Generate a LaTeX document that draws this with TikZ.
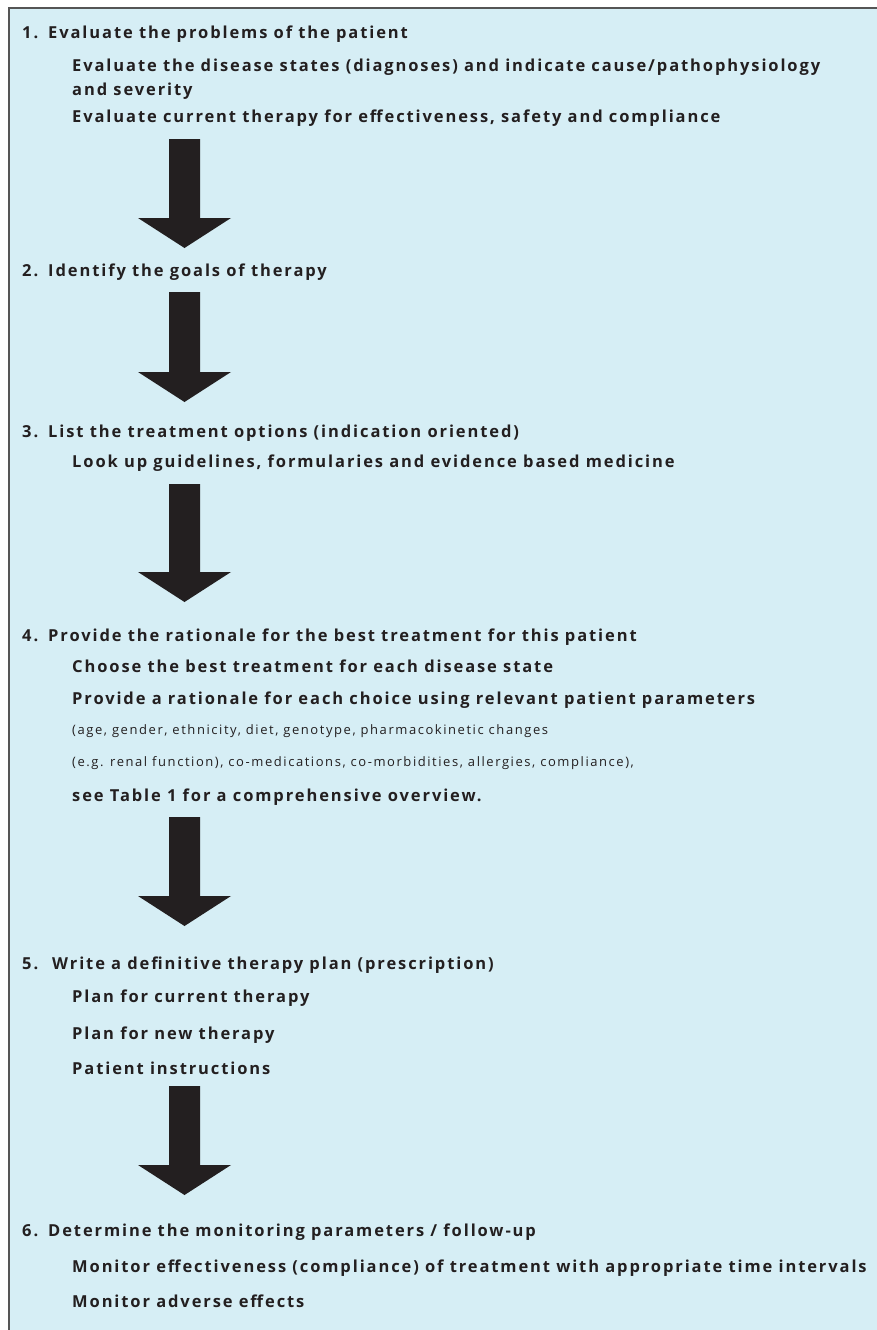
\documentclass[tikz,border=0pt]{standalone}
\usepackage{fontspec}
\setmainfont{Open Sans}[LetterSpace=11.5]
\newfontfamily\notefont{Open Sans}[LetterSpace=12]
\usetikzlibrary{calc}

\definecolor{panelblue}{RGB}{214,238,245}
\definecolor{inkdark}{RGB}{35,31,32}
\definecolor{framegray}{RGB}{85,85,85}

\tikzset{
  mainitem/.style={anchor=base west, inner sep=0pt, text=inkdark,
    font=\fontsize{16.5}{19}\selectfont\bfseries},
  subitem/.style={mainitem},
  noteitem/.style={anchor=base west, inner sep=0pt, text=inkdark,
    font=\notefont\fontsize{13}{16}\selectfont},
  arrowfill/.style={fill=inkdark}
}

% number of a step, set in a box of fixed width
\newcommand{\itemno}[2][26pt]{\makebox[#1][l]{#2}}
% fat down arrow from #1 (top of shaft) to #2 (tip)
\newcommand{\blockarrow}[2]{%
  \fill[arrowfill] ($(#1)+(-15.5,0)$) -- ($(#2)+(-15.5,-30)$) -- ($(#2)+(-46.5,-30)$)
    -- (#2) -- ($(#2)+(46.5,-30)$) -- ($(#2)+(15.5,-30)$) -- ($(#1)+(15.5,0)$) -- cycle;}

\begin{document}
\begin{tikzpicture}[x=1pt,y=-1pt]
  \useasboundingbox (0,0) rectangle (877,1330);
  \fill[panelblue] (9,8) rectangle (877,1330);
  \draw[framegray, line width=1.5pt] (9,1330) -- (9,8) -- (877,8);

  % step 1
  \node[mainitem] (h1) at (22,38) {\itemno{1.}Evaluate the problems of the patient};
  \node[subitem] (s1a) at (72,71) {Evaluate the disease states (diagnoses) and indicate cause/pathophysiology};
  \node[subitem] (s1b) at (72,95) {and severity};
  \node[subitem] (s1c) at (72,122) {Evaluate current therapy for effectiveness, safety and compliance};
  \coordinate (a1top) at (184.5,139);
  \coordinate (a1tip) at (184.5,248);
  \blockarrow{a1top}{a1tip}

  % step 2
  \node[mainitem] (h2) at (22,276) {\itemno{2.}Identify the goals of therapy};
  \coordinate (a2top) at (184.5,292);
  \coordinate (a2tip) at (184.5,402);
  \blockarrow{a2top}{a2tip}

  % step 3
  \node[mainitem] (h3) at (22,437) {\itemno{3.}List the treatment options (indication oriented)};
  \node[subitem] (s3a) at (72,467) {Look up guidelines, formularies and evidence based medicine};
  \coordinate (a3top) at (184.5,484);
  \coordinate (a3tip) at (184.5,602);
  \blockarrow{a3top}{a3tip}

  % step 4
  \node[mainitem] (h4) at (22,641) {\itemno{4.}Provide the rationale for the best treatment for this patient};
  \node[subitem] (s4a) at (72,672) {Choose the best treatment for each disease state};
  \node[subitem] (s4b) at (72,704) {Provide a rationale for each choice using relevant patient parameters};
  \node[noteitem] (s4c) at (72,734) {(age, gender, ethnicity, diet, genotype, pharmacokinetic changes};
  \node[noteitem] (s4d) at (72,766) {(e.g. renal function), co-medications, co-morbidities, allergies, compliance),};
  \node[subitem] (s4e) at (72,801) {see Table 1 for a comprehensive overview.};
  \coordinate (a4top) at (184.5,817);
  \coordinate (a4tip) at (184.5,926);
  \blockarrow{a4top}{a4tip}

  % step 5
  \node[mainitem] (h5) at (22,969) {\itemno[30pt]{5.}Write a definitive therapy plan (prescription)};
  \node[subitem] (s5a) at (72,1002) {Plan for current therapy};
  \node[subitem] (s5b) at (72,1039) {Plan for new therapy};
  \node[subitem] (s5c) at (72,1074) {Patient instructions};
  \coordinate (a5top) at (184.5,1086);
  \coordinate (a5tip) at (184.5,1195);
  \blockarrow{a5top}{a5tip}

  % step 6
  \node[mainitem] (h6) at (22,1236) {\itemno{6.}Determine the monitoring parameters / follow-up};
  \node[subitem] (s6a) at (72,1272) {Monitor effectiveness (compliance) of treatment with appropriate time intervals};
  \node[subitem] (s6b) at (72,1307) {Monitor adverse effects};
\end{tikzpicture}
\end{document}
